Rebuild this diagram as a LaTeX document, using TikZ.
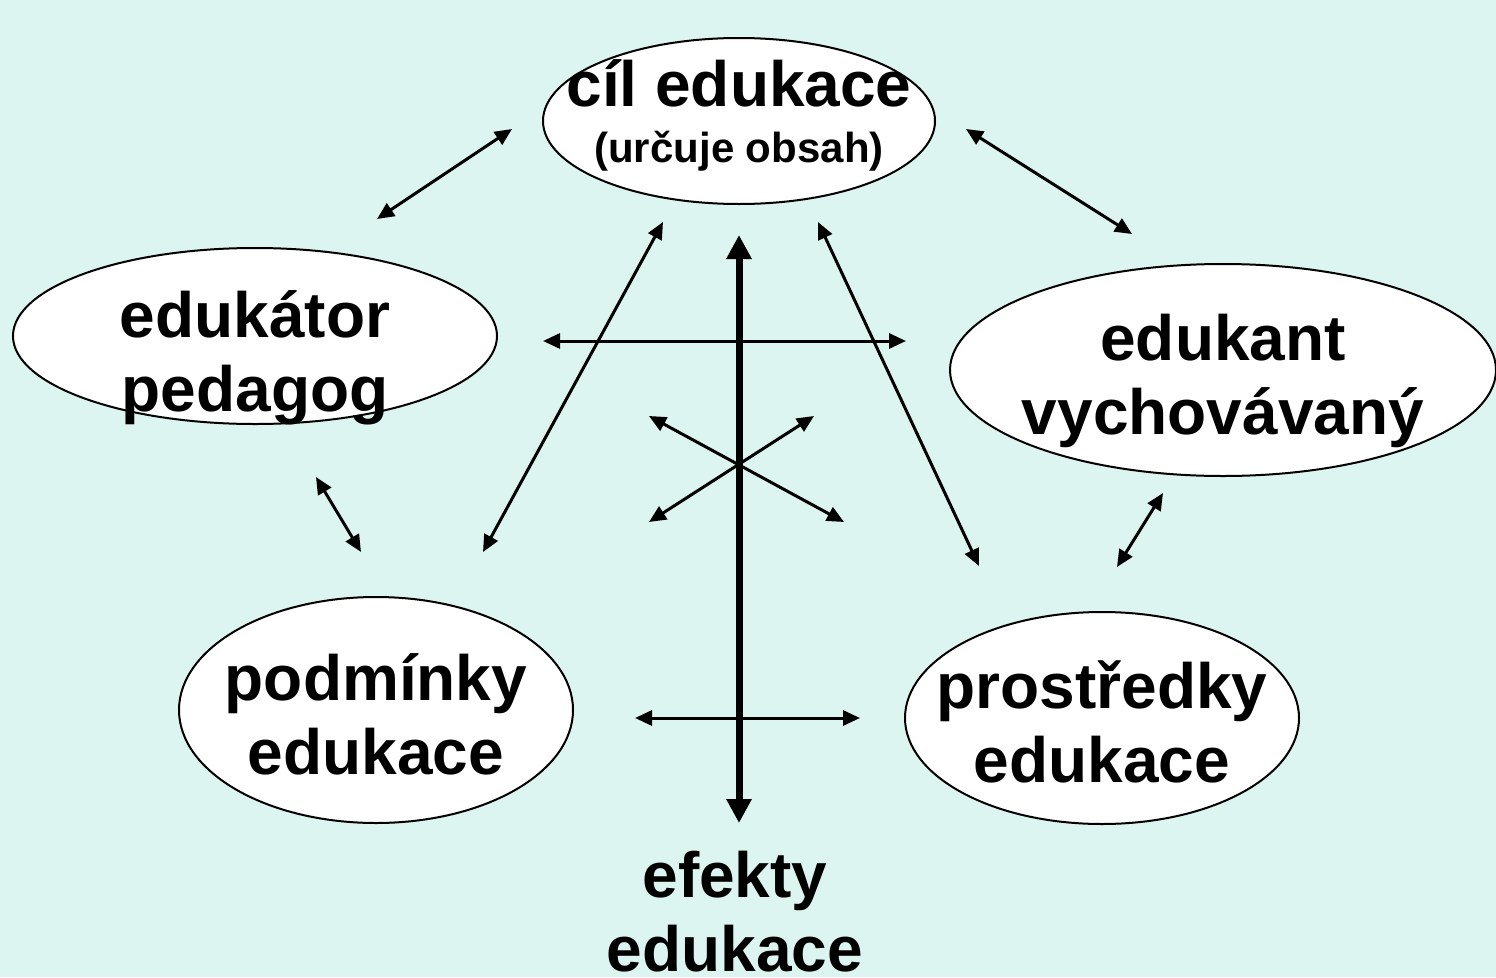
\documentclass[tikz,border=0pt]{standalone}
\usepackage{fontspec}
\setmainfont{Liberation Sans}
\usetikzlibrary{shapes.geometric,arrows.meta}
\definecolor{bgcyan}{RGB}{221,245,240}

\begin{document}
\begin{tikzpicture}[x=1pt,y=-1pt,
		OvalStyle/.style={ellipse,draw,fill=white,line width=2pt,inner sep=0pt},
		TextStyle/.style={align=center,inner sep=0pt,font=\fontsize{64}{74}\selectfont\bfseries},
		EdgeStyle/.style={{Triangle[length=17pt,width=15pt]}-{Triangle[length=17pt,width=15pt]},line width=3pt},
		AxisStyle/.style={{Triangle[length=24pt,width=24pt]}-{Triangle[length=24pt,width=24pt]},line width=7pt}]
	\fill[bgcyan] (0,0) rectangle (1496,977);
	\useasboundingbox (0,0) rectangle (1496,977);
	% ovals
	\node[OvalStyle,minimum width=392pt,minimum height=166pt] (cil) at (739,121) {};
	\node[OvalStyle,minimum width=484pt,minimum height=176pt] (edukator) at (255,336) {};
	\node[OvalStyle,minimum width=546pt,minimum height=212pt] (edukant) at (1223,370) {};
	\node[OvalStyle,minimum width=394pt,minimum height=226pt] (podminky) at (376,710) {};
	\node[OvalStyle,minimum width=394pt,minimum height=212pt] (prostredky) at (1102,718) {};
	% texts
	\node[TextStyle] (cilText) at (739,115.5) {cíl edukace\\[-18pt]{\fontsize{42}{50}\selectfont (určuje obsah)}};
	\node[TextStyle] (edukatorText) at (255,357.5) {edukátor\\pedagog};
	\node[TextStyle] (edukantText) at (1223,381) {edukant\\vychovávaný};
	\node[TextStyle] (podminkyText) at (376,714.5) {podmínky\\edukace};
	\node[TextStyle] (prostredkyText) at (1102,721.5) {prostředky\\edukace};
	\node[TextStyle] (efekty) at (735,912) {efekty\\edukace};
	% arrow ends
	\coordinate (a1) at (377,219);  \coordinate (b1) at (512,129);
	\coordinate (a2) at (966,129);  \coordinate (b2) at (1132,234);
	\coordinate (a3) at (663,222);  \coordinate (b3) at (483,552);
	\coordinate (a4) at (818,222);  \coordinate (b4) at (979,566);
	\coordinate (a5) at (543,341);  \coordinate (b5) at (906,341);
	\coordinate (a6) at (649,416);  \coordinate (b6) at (844,522);
	\coordinate (a7) at (814,416);  \coordinate (b7) at (649,522);
	\coordinate (a8) at (316,477);  \coordinate (b8) at (361,552);
	\coordinate (a9) at (1163,493); \coordinate (b9) at (1117,567);
	\coordinate (a10) at (635,718); \coordinate (b10) at (860,718);
	\coordinate (top) at (739,235); \coordinate (bottom) at (739,823);
	% arrows
	\draw[AxisStyle] (top) -- (bottom);
	\draw[EdgeStyle] (a1) -- (b1);
	\draw[EdgeStyle] (a2) -- (b2);
	\draw[EdgeStyle] (a3) -- (b3);
	\draw[EdgeStyle] (a4) -- (b4);
	\draw[EdgeStyle] (a5) -- (b5);
	\draw[EdgeStyle] (a6) -- (b6);
	\draw[EdgeStyle] (a7) -- (b7);
	\draw[EdgeStyle] (a8) -- (b8);
	\draw[EdgeStyle] (a9) -- (b9);
	\draw[EdgeStyle] (a10) -- (b10);
\end{tikzpicture}
\end{document}
